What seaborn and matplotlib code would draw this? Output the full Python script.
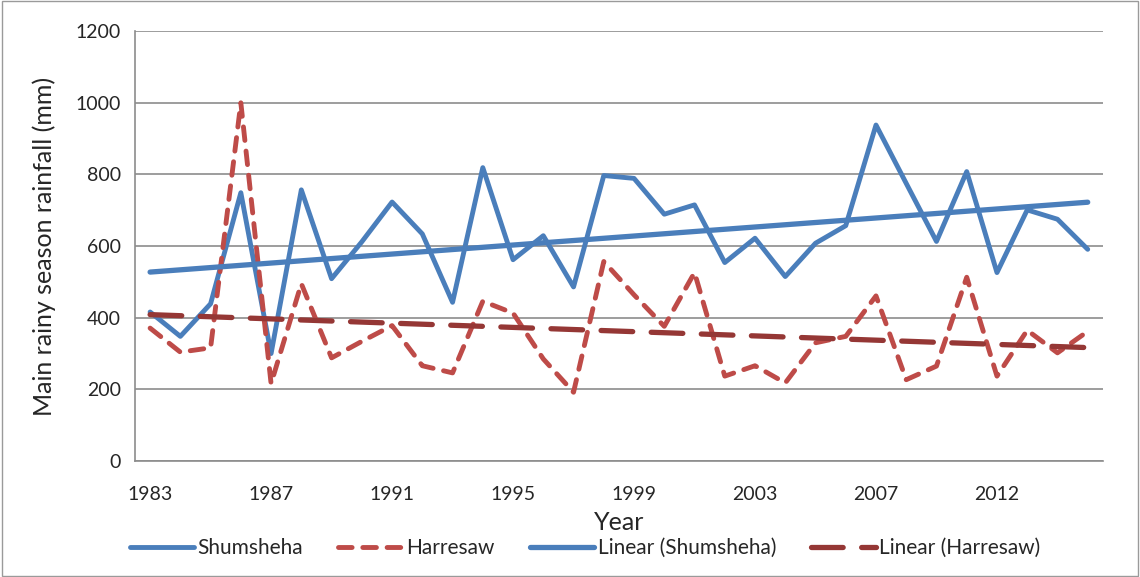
import numpy as np
import seaborn as sns
from matplotlib import pyplot as plt

# main rainy season rainfall (mm), one entry per year on the category axis
years = [str(y) for y in range(1983, 2008)] + ["2009", "2010", "2011", "2012", "2013", "2014", "2015"]
shumsheha = [416, 348, 439, 749, 300, 757, 509, 612, 723, 634, 443, 819,
             562, 629, 486, 797, 789, 689, 715, 554, 622, 515,
             608, 657, 938, 775, 613, 808, 526, 701, 675, 591]
harresaw = [371, 304, 316, 1000, 216, 495, 288, 334, 378, 266, 246, 446,
            413, 285, 192, 557, 464, 376, 526, 237, 266, 218,
            330, 348, 461, 227, 265, 513, 237, 365, 302, 362]
label_years = ["1983", "1987", "1991", "1995", "1999", "2003", "2007", "2012"]

blue = "#4A7EBB"
red = "#BE4B48"
dark_red = "#953735"

sns.set_style("white")
plt.rcParams["font.family"] = ["Lato", "DejaVu Sans"]

idx = np.arange(len(years))

fig = plt.figure(figsize=(11.4, 5.77), dpi=100)
ax = fig.add_axes([0.1184, 0.201, 0.849, 0.745])

sns.lineplot(x=idx, y=shumsheha, ax=ax, color=blue, lw=3.5, label="Shumsheha")
sns.lineplot(x=idx, y=harresaw, ax=ax, color=red, lw=3.5, linestyle=(0, (2.8, 2.2)),
             dash_capstyle="round", label="Harresaw")
sns.regplot(x=idx, y=shumsheha, ax=ax, scatter=False, ci=None, truncate=True,
            color=blue, label="Linear (Shumsheha)", line_kws=dict(lw=3.8))
sns.regplot(x=idx, y=harresaw, ax=ax, scatter=False, ci=None, truncate=True,
            color=dark_red, label="Linear (Harresaw)",
            line_kws=dict(lw=3.8, linestyle=(0, (6, 3.5)), dash_capstyle="round"))

ax.set_xlim(-0.5, len(years) - 0.5)
ax.set_ylim(0, 1200)
ax.set_yticks(range(0, 1201, 200))
ax.yaxis.grid(True, color="#8C8C8C", lw=1.2)
ax.set_axisbelow(True)

# tick marks sit between categories, labels every fourth category
ax.set_xticks(np.arange(-0.5, len(years)))
ax.set_xticklabels([])
lab_pos = [years.index(y) for y in label_years]
ax.set_xticks(lab_pos, minor=True)
ax.set_xticklabels(label_years, minor=True)
ax.tick_params(axis="x", which="major", length=6, width=1.2, color="#8C8C8C", direction="out")
ax.tick_params(axis="x", which="minor", length=0, labelsize=14, pad=18)
ax.tick_params(axis="y", length=6, width=1.2, color="#8C8C8C", direction="out", labelsize=14, pad=4)

for s in ["top", "right"]:
    ax.spines[s].set_visible(False)
for s in ["left", "bottom"]:
    ax.spines[s].set_color("#8C8C8C")
    ax.spines[s].set_linewidth(1.2)

ax.set_xlabel("Year", fontsize=18, labelpad=6)
ax.set_ylabel("Main rainy season rainfall (mm)", fontsize=18, labelpad=14)

ax.legend(loc="upper center", bbox_to_anchor=(0.465, -0.135), ncol=4, frameon=False,
          fontsize=15, handlelength=3.1, handletextpad=0.15, columnspacing=1.7)

fig.patches.append(plt.Rectangle((0.002, 0.002), 0.996, 0.996, transform=fig.transFigure,
                                 fill=False, edgecolor="#9A9A9A", lw=1))

fig.savefig("out.png", dpi=100)
